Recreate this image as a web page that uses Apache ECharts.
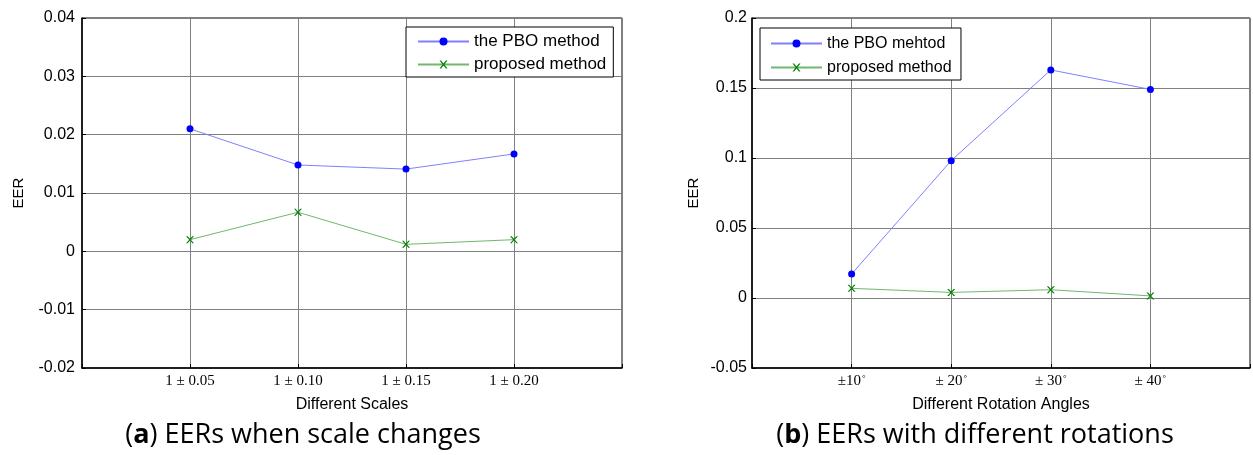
<!DOCTYPE html>
<html>
<head>
<meta charset="utf-8">
<script src="https://cdn.jsdelivr.net/npm/echarts@6/dist/echarts.min.js"></script>
<style>html,body{margin:0;padding:0;background:#fff}#c{width:1253px;height:455px}</style>
</head>
<body>
<div id="c"></div>
<script>
// ---- data ----
const scaleCats = ['1 ± 0.05', '1 ± 0.10', '1 ± 0.15', '1 ± 0.20'];
const scalePBO = [0.021, 0.0148, 0.0141, 0.0167];
const scaleProposed = [0.002, 0.0067, 0.0012, 0.002];
const rotCats = ['±10', '± 20', '± 30', '± 40'];
const rotPBO = [0.0171, 0.0981, 0.1629, 0.149];
const rotProposed = [0.0069, 0.004, 0.0059, 0.0015];
const leftYTicks = [-0.02, -0.01, 0, 0.01, 0.02, 0.03, 0.04];
const rightYTicks = [-0.05, 0, 0.05, 0.1, 0.15, 0.2];

const toPts = arr => arr.map((v, i) => [i + 1, v]);
const xMark = 'path://M0,0L2,0L5,3L8,0L10,0L6,4L10,8L8,8L5,5L2,8L0,8L4,4Z';

const chart = echarts.init(document.getElementById('c'));
const sans = 'Liberation Sans, Arial, sans-serif';
const serif = 'Liberation Serif, Times New Roman, serif';

function xAxisFor(gridIndex, cats, name, deg) {
  return {
    gridIndex, type: 'value', min: 0, max: 5, interval: 1,
    name, nameLocation: 'middle', nameGap: 29,
    nameTextStyle: { fontFamily: sans, fontSize: 16, color: '#000' },
    axisLine: { show: true, onZero: false, lineStyle: { color: '#000', width: 1.5 } },
    axisTick: { show: true, inside: true, length: 4, lineStyle: { color: '#000' } },
    axisLabel: {
      fontFamily: serif, fontSize: 15, color: '#000', margin: 6,
      formatter: v => (v >= 1 && v <= 4 ? (deg ? '{n|' + cats[v - 1] + '}{d|°}' : cats[v - 1]) : ''),
      rich: {
        n: { fontFamily: serif, fontSize: 15, color: '#000' },
        d: { fontFamily: serif, fontSize: 9, color: '#000', verticalAlign: 'top', padding: [0, 0, 6, 1] }
      }
    },
    splitLine: { show: true, lineStyle: { color: '#808080', width: 1 } }
  };
}
function yAxisFor(gridIndex, min, max, interval, ticks, gap, margin) {
  return {
    gridIndex, type: 'value', min, max, interval,
    name: 'EER', nameLocation: 'middle', nameGap: gap,
    nameTextStyle: { fontFamily: sans, fontSize: 15, color: '#000' },
    axisLine: { show: true, onZero: false, lineStyle: { color: '#000', width: 1.5 } },
    axisTick: { show: true, inside: true, length: 4, lineStyle: { color: '#000' } },
    axisLabel: {
      fontFamily: sans, fontSize: 16, color: '#000', margin,
      formatter: v => {
        const t = ticks.find(k => Math.abs(k - v) < 1e-9);
        return t === undefined ? '' : String(t);
      }
    },
    splitLine: { show: true, lineStyle: { color: '#808080', width: 1 } }
  };
}

const capRich = {
  b: { fontFamily: 'Open Sans, Lato, sans-serif', fontSize: 27, fill: '#000' },
  bb: { fontFamily: 'Open Sans, Lato, sans-serif', fontSize: 27, fontWeight: 'bold', fill: '#000' }
};

chart.setOption({
  animation: false,
  backgroundColor: '#fff',
  grid: [
    { left: 82, top: 18, width: 540, height: 350, show: true, borderColor: '#000', borderWidth: 1, backgroundColor: 'transparent' },
    { left: 752, top: 18, width: 508, height: 350, show: true, borderColor: '#000', borderWidth: 1, backgroundColor: 'transparent' }
  ],
  xAxis: [
    xAxisFor(0, scaleCats, 'Different Scales', false),
    xAxisFor(1, rotCats, 'Different Rotation Angles', true)
  ],
  yAxis: [
    yAxisFor(0, -0.02, 0.04, 0.01, leftYTicks, 56, 7),
    yAxisFor(1, -0.05, 0.2, 0.05, rightYTicks, 51, 5)
  ],
  legend: [
    {
      left: 406, top: 27, orient: 'vertical', itemWidth: 51, itemHeight: 10, itemGap: 6,
      backgroundColor: '#fff', borderColor: '#000', borderWidth: 1,
      padding: [6, 7, 4, 11],
      textStyle: { fontFamily: sans, fontSize: 17, lineHeight: 17, color: '#000' },
      data: ['the PBO method', 'proposed method'], selectedMode: false
    },
    {
      left: 760, top: 28, orient: 'vertical', itemWidth: 51, itemHeight: 10, itemGap: 7,
      backgroundColor: '#fff', borderColor: '#000', borderWidth: 1,
      padding: [7, 5, 4, 10],
      textStyle: { fontFamily: sans, fontSize: 16, lineHeight: 17, color: '#000' },
      data: ['the PBO mehtod', 'proposed method '], selectedMode: false
    }
  ],
  series: [
    {
      name: 'the PBO method', type: 'line', xAxisIndex: 0, yAxisIndex: 0,
      data: toPts(scalePBO), symbol: 'circle', symbolSize: 7,
      itemStyle: { color: '#0000ff' }, lineStyle: { color: '#8080ff', width: 1 }
    },
    {
      name: 'proposed method', type: 'line', xAxisIndex: 0, yAxisIndex: 0,
      data: toPts(scaleProposed), symbol: xMark, symbolSize: [8, 7],
      itemStyle: { color: '#008000' }, lineStyle: { color: '#70b870', width: 1 }
    },
    {
      name: 'the PBO mehtod', type: 'line', xAxisIndex: 1, yAxisIndex: 1,
      data: toPts(rotPBO), symbol: 'circle', symbolSize: 7,
      itemStyle: { color: '#0000ff' }, lineStyle: { color: '#8080ff', width: 1 }
    },
    {
      name: 'proposed method ', type: 'line', xAxisIndex: 1, yAxisIndex: 1,
      data: toPts(rotProposed), symbol: xMark, symbolSize: [8, 7],
      itemStyle: { color: '#008000' }, lineStyle: { color: '#70b870', width: 1 }
    }
  ],
  graphic: [
    {
      type: 'text', x: 303, y: 435,
      style: { text: '{b|(}{bb|a}{b|) EERs when scale changes}', rich: capRich, align: 'center', verticalAlign: 'middle' }
    },
    {
      type: 'text', x: 975, y: 435,
      style: { text: '{b|(}{bb|b}{b|) EERs with different rotations}', rich: capRich, align: 'center', verticalAlign: 'middle' }
    }
  ]
});
</script>
</body>
</html>
